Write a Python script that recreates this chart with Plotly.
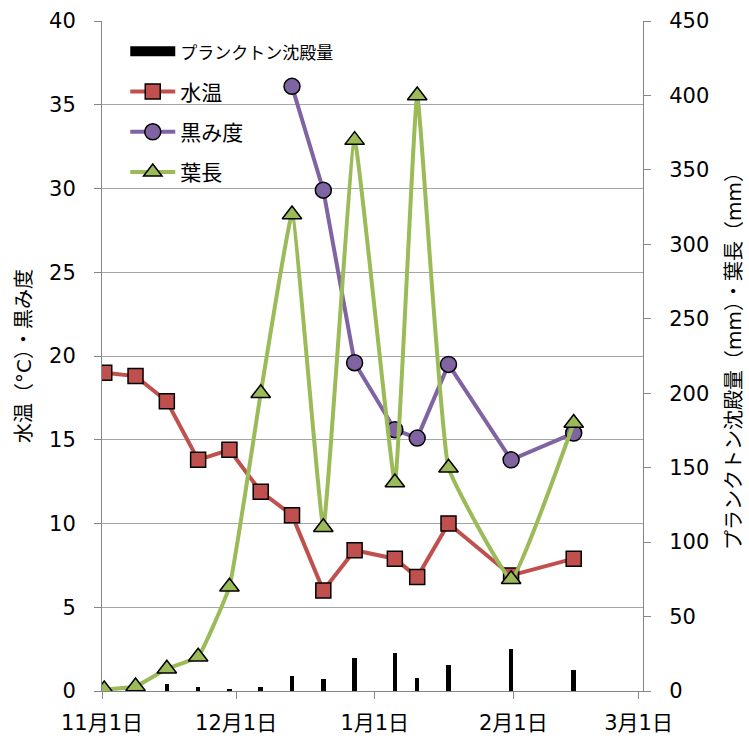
import pandas as pd
import plotly.graph_objects as go

# Sampling dates (weekly-ish survey)
dates = ["2012-11-01", "2012-11-08", "2012-11-15", "2012-11-22", "2012-11-29",
         "2012-12-06", "2012-12-13", "2012-12-20", "2012-12-27", "2013-01-05",
         "2013-01-10", "2013-01-17", "2013-01-31", "2013-02-14"]

# Left axis series
water_temp = [19.0, 18.8, 17.3, 13.8, 14.4, 11.9, 10.5, 6.0, 8.4, 7.9, 6.8, 10.0, 6.9, 7.9]
blackness = [None, None, None, None, None, None, 36.1, 29.9, 19.6, 15.6, 15.1, 19.5, 13.8, 15.4]

# Right axis series
leaf_length = [1, 3, 15, 23, 70, 200, 320, 110, 370, 140, 400, 150, 75, 180]
plankton = [None, None, 4.5, 3, 1, 3, 10, 8.3, 22.4, 25.5, 9, 17.3, 28.2, 14.4]

# Axis ticks
month_ticks = ["2012-11-01", "2012-12-01", "2013-01-01", "2013-02-01", "2013-03-01"]
month_labels = ["11月1日", "12月1日", "1月1日", "2月1日", "3月1日"]

names = ["プランクトン沈殿量", "水温", "黒み度", "葉長"]

FONT = "DejaVu Sans, Noto Sans CJK JP, sans-serif"
RED, PURPLE, GREEN = "#C0504D", "#8064A2", "#9BBB59"
AXIS_GREY, GRID_GREY = "#868686", "#A6A6A6"

# each date occupies one day slot; points sit in the middle of their slot
x = pd.to_datetime(dates) + pd.Timedelta(hours=12)
day_ms = 24 * 3600 * 1000

fig = go.Figure()

fig.add_trace(go.Bar(
    x=x, y=plankton, yaxis="y2", width=day_ms,
    marker=dict(color="black", line=dict(width=0)),
    name=names[0], showlegend=False,
))
# legend key for the plankton columns
fig.add_trace(go.Scatter(
    x=[None], y=[None], mode="lines", yaxis="y2",
    line=dict(color="black", width=13),
    name="<span style='font-size:17px'>" + names[0] + "</span>",
    legendgroup="g1", legendrank=1,
))
fig.add_trace(go.Scatter(
    x=x, y=water_temp, mode="lines+markers", name=names[1],
    line=dict(color=RED, width=4),
    marker=dict(symbol="square", size=15, color=RED, line=dict(color="black", width=1.5)),
    legendgroup="g2", legendrank=2,
))
fig.add_trace(go.Scatter(
    x=x, y=blackness, mode="lines+markers", name=names[2],
    line=dict(color=PURPLE, width=4),
    marker=dict(symbol="circle", size=16, color=PURPLE, line=dict(color="black", width=1.5)),
    legendgroup="g3", legendrank=3,
))
fig.add_trace(go.Scatter(
    x=x, y=leaf_length, mode="lines+markers", name=names[3], yaxis="y2",
    line=dict(color=GREEN, width=4, shape="spline", smoothing=0.3),
    marker=dict(symbol="triangle-up", size=17, color=GREEN, line=dict(color="black", width=1.5)),
    legendgroup="g4", legendrank=4,
))

fig.update_layout(
    width=749, height=739,
    margin=dict(l=102, r=106, t=21, b=48, autoexpand=False),
    paper_bgcolor="white", plot_bgcolor="white",
    font=dict(family=FONT, size=21, color="black"),
    bargap=0,
    showlegend=True,
    legend=dict(
        x=0.043, y=0.985, xanchor="left", yanchor="top",
        bgcolor="rgba(0,0,0,0)", borderwidth=0,
        traceorder="grouped", tracegroupgap=10,
        font=dict(family=FONT, size=21, color="black"),
        itemwidth=45,
    ),
    xaxis=dict(
        type="date", range=["2012-11-01", "2013-03-02"],
        tickvals=month_ticks, ticktext=month_labels,
        ticks="outside", ticklen=7, tickcolor=AXIS_GREY, tickwidth=1,
        showline=True, linecolor=AXIS_GREY, linewidth=1,
        showgrid=False, zeroline=False, automargin=False,
        ticklabelstandoff=6,
        tickfont=dict(size=21),
    ),
    yaxis=dict(
        range=[0, 40], dtick=5,
        ticks="outside", ticklen=7, tickcolor=AXIS_GREY,
        showline=True, linecolor=AXIS_GREY, linewidth=1,
        showgrid=True, gridcolor=GRID_GREY, gridwidth=1, zeroline=False,
        automargin=False,
        ticklabelstandoff=14,
        tickfont=dict(size=21),
        title=dict(text="水温（°C）・黒み度", font=dict(size=20), standoff=12),
    ),
    yaxis2=dict(
        range=[0, 450], dtick=50, overlaying="y", side="right",
        ticks="outside", ticklen=7, tickcolor=AXIS_GREY,
        showline=True, linecolor=AXIS_GREY, linewidth=1,
        showgrid=False, zeroline=False, automargin=False,
        ticklabelstandoff=14,
        tickfont=dict(size=21),
        title=dict(text="プランクトン沈殿量（mm）・葉長（mm）", font=dict(size=20), standoff=18),
    ),
)

fig.write_html("out.html")
